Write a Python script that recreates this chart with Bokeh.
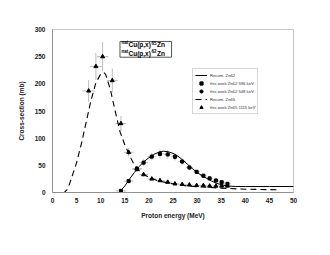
from bokeh.plotting import figure
from bokeh.models import Legend, LegendItem, FixedTicker, Range1d
from bokeh.core.properties import value
from bokeh.embed import file_html
from bokeh.resources import INLINE

# ---- data ----
zn62_e = [14.2, 15.8, 17.5, 18.9, 20.6, 22.3, 23.9, 25.4, 26.9, 28.4, 29.9, 31.3, 32.6, 33.9, 35.1, 36.3]
zn62_596 = [3, 21, 43, 55, 66, 71, 70, 66, 57, 46, 38, 31, 26, 22, 19, 16]
zn62_548 = [3, 20, 42, 54, 67, 73, 71, 64, 56, 45, 37, 30, 26, 23, 19, 15]
zn62_err = [1, 3, 5, 6, 7, 8, 8, 7, 6, 5, 4, 3, 3, 3, 2, 2]
zn62_xerr = [1.1, 1.0, 1.0, 0.9, 0.9, 0.9, 0.8, 0.8, 0.8, 0.7, 0.7, 0.7, 0.7, 0.7, 0.7, 0.7]

zn65_e = [7.5, 9.0, 10.4, 12.4, 14.2, 15.8, 17.5, 18.9, 20.6, 22.3, 23.9, 25.4, 26.9, 28.4, 29.9, 31.3, 32.6, 33.9, 35.1, 36.3]
zn65_v = [187, 232, 250, 206, 127, 74, 44, 33, 25, 22, 19, 16, 15, 14, 13, 13, 12, 12, 12, 12]
zn65_err = [20, 25, 27, 22, 14, 8, 5, 4, 3, 3, 2, 2, 2, 2, 2, 2, 2, 2, 2, 2]
zn65_xerr = [1.3, 1.2, 1.2, 1.1, 1.1, 1.0, 1.0, 0.9, 0.9, 0.9, 0.8, 0.8, 0.8, 0.7, 0.7, 0.7, 0.7, 0.7, 0.7, 0.7]

rec62_e = [13.8, 15, 16, 17, 18, 19, 20, 21, 22, 23, 24, 25, 26, 27, 28, 29, 30, 31, 32, 33, 34, 35, 36, 37, 38, 40, 45, 50]
rec62_v = [0, 12, 25, 37, 48, 57, 64, 70, 74, 76, 75, 72, 67, 60, 52, 44, 37, 31, 26, 21, 17, 14.5, 12.5, 11.5, 11, 11, 11, 11]

rec65_e = [2.1, 2.5, 3, 3.5, 4, 5, 6, 7, 8, 9, 10, 10.6, 11, 12, 13, 14, 15, 16, 17, 17.6, 19, 20, 22, 25, 28, 31, 35, 40, 47]
rec65_v = [0, 0.5, 5, 15, 28, 55, 90, 130, 170, 202, 218, 221, 218, 190, 150, 112, 88, 68, 50, 43, 33, 28, 21, 16, 12, 10, 8, 6, 5]

x_ticks = [0, 5, 10, 15, 20, 25, 30, 35, 40, 45, 50]
y_ticks = [0, 50, 100, 150, 200, 250, 300]

FONT = "Liberation Sans"

p = figure(frame_width=241, frame_height=163, min_border_left=52, min_border_right=29,
           min_border_top=29, min_border_bottom=55, output_backend="svg",
           toolbar_location=None, x_range=Range1d(0, 50), y_range=Range1d(0, 300))
p.xgrid.visible = False
p.ygrid.visible = False
p.outline_line_color = "#c8c8c8"
p.background_fill_color = "white"
p.border_fill_color = "white"

for ax in (p.xaxis[0], p.yaxis[0]):
    ax.axis_line_color = "#909090"
    ax.major_tick_out = 0
    ax.major_tick_in = 0
    ax.minor_tick_out = 0
    ax.minor_tick_in = 0
    ax.major_label_text_font = FONT
    ax.major_label_text_font_size = "6.5px"
    ax.major_label_text_font_style = "bold"
    ax.major_label_text_color = "#222222"
    ax.axis_label_text_font = FONT
    ax.axis_label_text_font_size = "6.5px"
    ax.axis_label_text_font_style = "bold"
    ax.axis_label_text_color = "#222222"

p.xaxis.ticker = FixedTicker(ticks=x_ticks)
p.yaxis.ticker = FixedTicker(ticks=y_ticks)
p.xaxis.axis_label = "Proton energy (MeV)"
p.yaxis.axis_label = "Cross-section (mb)"
p.xaxis.major_label_standoff = 5
p.xaxis.axis_label_standoff = 6
p.yaxis.major_label_standoff = 7
p.yaxis.axis_label_standoff = 7

# error bars
ebc = "#bcbcbc"
p.segment(x0=[e - d for e, d in zip(zn65_e, zn65_xerr)], x1=[e + d for e, d in zip(zn65_e, zn65_xerr)],
          y0=zn65_v, y1=zn65_v, line_color=ebc, line_width=1)
p.segment(x0=zn65_e, x1=zn65_e, y0=[v - d for v, d in zip(zn65_v, zn65_err)],
          y1=[v + d for v, d in zip(zn65_v, zn65_err)], line_color=ebc, line_width=1)
p.segment(x0=[e - d for e, d in zip(zn62_e, zn62_xerr)], x1=[e + d for e, d in zip(zn62_e, zn62_xerr)],
          y0=zn62_596, y1=zn62_596, line_color=ebc, line_width=1)
p.segment(x0=zn62_e, x1=zn62_e, y0=[v - d for v, d in zip(zn62_596, zn62_err)],
          y1=[v + d for v, d in zip(zn62_596, zn62_err)], line_color=ebc, line_width=1)

# curves
r_rec62 = p.line(rec62_e, rec62_v, line_color="black", line_width=1.0)
r_rec65 = p.line(rec65_e, rec65_v, line_color="black", line_width=1.1, line_dash="6 4")

# markers
r_sq = p.scatter(zn62_e, zn62_596, marker="square", size=3, fill_color="black", line_color="black")
r_dot = p.scatter(zn62_e, zn62_548, marker="circle", size=2, fill_color="black", line_color="black")
r_tri = p.scatter(zn65_e, zn65_v, marker="triangle", size=4, fill_color="black", line_color="black")

legend = Legend(items=[
    LegendItem(label="Recom. Zn62", renderers=[r_rec62]),
    LegendItem(label="this work Zn62 596 keV", renderers=[r_sq]),
    LegendItem(label="this work Zn62 548 keV", renderers=[r_dot]),
    LegendItem(label="Recom. Zn65", renderers=[r_rec65]),
    LegendItem(label="this work Zn65 1115 keV", renderers=[r_tri]),
], location=(140, 78))
legend.label_text_font = FONT
legend.label_text_font_size = "4.2px"
legend.label_text_color = "#333333"
legend.label_height = 8
legend.glyph_height = 8
legend.glyph_width = 12
legend.spacing = 0
legend.padding = 2
legend.margin = 0
legend.label_standoff = 3
legend.border_line_color = "#b0b0b0"
legend.background_fill_alpha = 1
p.add_layout(legend)

# title box
p.quad(left=[14.0], right=[24.7], bottom=[249], top=[278], fill_color="white",
       line_color="#555555", line_width=1)
for yv, iso in ((271.5, "65"), (256.5, "62")):
    p.text(x=[14.0], y=[yv], text=["nat"], text_font=value(FONT), text_font_size="4.5px",
           text_font_style="bold", y_offset=-2, text_baseline="middle", x_offset=1.5)
    p.text(x=[14.0], y=[yv], text=["Cu(p,x)"], text_font=value(FONT), text_font_size="6.5px",
           text_font_style="bold", text_baseline="middle", x_offset=8.5)
    p.text(x=[14.0], y=[yv], text=[iso], text_font=value(FONT), text_font_size="4.5px",
           text_font_style="bold", y_offset=-2, text_baseline="middle", x_offset=31.5)
    p.text(x=[14.0], y=[yv], text=["Zn"], text_font=value(FONT), text_font_size="6.5px",
           text_font_style="bold", text_baseline="middle", x_offset=37)

open("out.html", "w").write(file_html(p, INLINE))
